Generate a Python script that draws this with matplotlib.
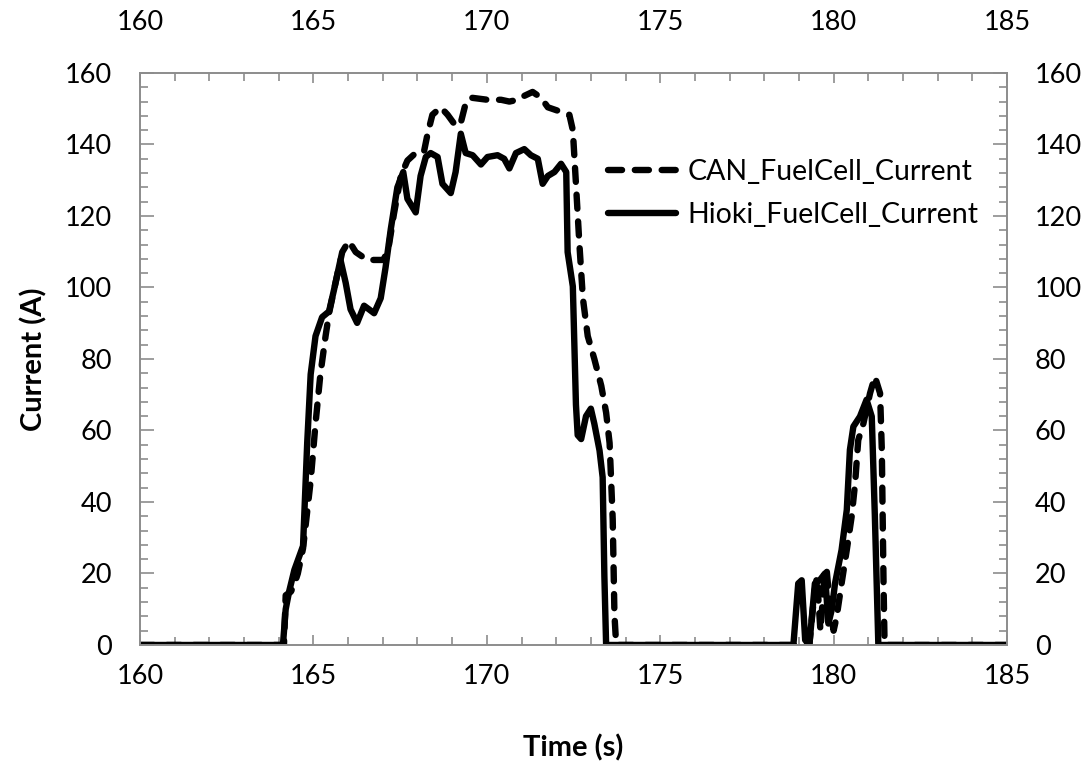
import matplotlib
matplotlib.use("Agg")
import matplotlib.pyplot as plt
from matplotlib.ticker import MultipleLocator

# Fuel cell current as logged on the CAN bus (s, A)
can_time = [160, 164.15, 164.2, 164.35, 164.45, 164.55, 164.7, 164.92, 165.06, 165.2,
            165.35, 165.45, 165.59, 165.83, 166.02, 166.22, 166.55, 167.03, 167.18, 167.32,
            167.52, 167.71, 168.0, 168.19, 168.29, 168.43, 168.67, 168.87, 169.11, 169.25,
            169.39, 169.54, 170.02, 170.41, 170.65, 170.89, 171.08, 171.32, 171.56, 171.76,
            172.09, 172.38, 172.48, 172.57, 172.67, 172.77, 172.91, 173.1, 173.3, 173.44,
            173.54, 173.63, 173.68, 173.73, 179.3, 179.45, 179.52, 179.62, 179.72, 179.8,
            179.9, 180.0, 180.09, 180.23, 180.38, 180.52, 180.62, 180.71, 180.86, 181.05,
            181.19, 181.34, 181.39, 181.44, 181.47, 185]
can_current = [0, 0, 13.9, 14.9, 17, 20, 27, 45.9, 61.9, 75.7,
               86.4, 92.8, 99.2, 109.9, 113, 109.9, 107.7, 107.7, 112, 120.5,
               131.2, 135.5, 138.1, 138.1, 142.9, 148.3, 150.4, 148.3, 145.1, 146.1,
               151.5, 153.1, 152.5, 152.5, 152, 152.5, 153.6, 154.7, 153.1, 150.4,
               149.3, 148.3, 144, 129, 112, 97, 86.4, 80, 72.5, 65,
               56.5, 35.2, 8.5, 0, 0, 15, 19, 4, 17, 21,
               10, 4, 8, 17.2, 26.6, 35.9, 45.2, 57.3, 62, 70.4,
               75.1, 70.4, 54.6, 17.2, 0, 0]

# Fuel cell current measured with the Hioki power analyser (s, A)
hioki_time = [160, 164.12, 164.2, 164.3, 164.45, 164.7, 164.82, 164.92, 165.06, 165.25,
              165.45, 165.59, 165.78, 165.93, 166.07, 166.26, 166.46, 166.6, 166.75, 166.94,
              167.08, 167.23, 167.42, 167.59, 167.71, 167.95, 168.09, 168.24, 168.38, 168.58,
              168.72, 168.96, 169.1, 169.25, 169.39, 169.59, 169.83, 170.02, 170.31, 170.5,
              170.65, 170.84, 171.08, 171.27, 171.47, 171.61, 171.76, 171.95, 172.14, 172.29,
              172.33, 172.48, 172.57, 172.62, 172.72, 172.86, 173.0, 173.1, 173.25, 173.34,
              173.39, 173.44, 178.84, 178.98, 179.08, 179.18, 179.3, 179.46, 179.6, 179.75,
              179.85, 179.95, 180.04, 180.23, 180.38, 180.47, 180.57, 180.76, 180.95, 181.1,
              181.19, 181.29, 185]
hioki_current = [0, 0, 10, 15, 21, 27.7, 56.5, 75.7, 86.4, 91.7,
                 93.3, 99.2, 107.7, 101.3, 93.9, 90.1, 94.9, 93.9, 92.8, 97,
                 105.6, 116.3, 128, 132.3, 124.8, 121, 131.2, 136.5, 137.6, 136.5,
                 129, 126.4, 132.3, 143, 137.6, 137, 134.4, 136.5, 137, 136,
                 133.3, 137.6, 138.7, 137, 136, 129, 131.2, 132.3, 134.6, 132.3,
                 109.9, 100.3, 67.2, 58.7, 57.6, 64, 66.1, 61.9, 54.4, 46.9,
                 19.2, 0, 0, 17.2, 18.1, 1.4, 0, 17.2, 18.1, 20,
                 6, 10, 17.2, 26.6, 37.8, 54.6, 61.1, 63.9, 68.6, 63.9,
                 35.9, 0, 0]

x_ticks = [160, 165, 170, 175, 180, 185]
y_ticks = [0, 20, 40, 60, 80, 100, 120, 140, 160]

plt.rcParams['font.family'] = ['Lato', 'DejaVu Sans']
FRAME = '#8c8c8c'
TICK_FS = 19.5

fig = plt.figure(figsize=(10.89, 7.73), dpi=100)
ax = fig.add_axes([0.1286, 0.1656, 0.9247 - 0.1286, 0.9056 - 0.1656])

ax.plot(can_time, can_current, color='black', lw=4.6, linestyle=(0, (2.2, 2.0)),
        dash_capstyle='round', solid_joinstyle='round', label='CAN_FuelCell_Current')
ax.plot(hioki_time, hioki_current, color='black', lw=4.6, solid_capstyle='round',
        solid_joinstyle='round', label='Hioki_FuelCell_Current')

ax.set_xlim(160, 185)
ax.set_ylim(0, 160)
ax.set_xticks(x_ticks)
ax.set_yticks(y_ticks)
ax.xaxis.set_minor_locator(MultipleLocator(1))
ax.yaxis.set_minor_locator(MultipleLocator(4))

for side in ax.spines.values():
    side.set_color(FRAME)
    side.set_linewidth(1.4)

ax.tick_params(axis='both', which='both', direction='in', color=FRAME, width=1.2,
               top=True, right=True, labelsize=TICK_FS, labelcolor='black')
ax.tick_params(axis='both', which='major', length=7)
ax.tick_params(axis='both', which='minor', length=6)
ax.tick_params(axis='x', which='major', pad=14)
ax.tick_params(axis='y', which='major', pad=20)
ax.tick_params(axis='y', which='major', length=10)

# Labels repeated on the top and right edges
top = ax.secondary_xaxis('top')
top.set_xticks(x_ticks)
top.tick_params(length=0, pad=27, labelsize=TICK_FS, labelcolor='black')
top.spines['top'].set_visible(False)

right = ax.secondary_yaxis('right')
right.set_yticks(y_ticks)
right.tick_params(length=0, pad=20, labelsize=TICK_FS, labelcolor='black')
right.spines['right'].set_visible(False)

ax.set_xlabel('Time (s)', fontsize=21, fontweight='bold', labelpad=32)
ax.set_ylabel('Current (A)', fontsize=21, fontweight='bold', labelpad=13)

ax.legend(loc='upper left', bbox_to_anchor=(0.5235, 0.875), frameon=False,
          fontsize=20.5, handlelength=2.4, handletextpad=0.4,
          labelspacing=0.62, borderpad=0.0)

fig.savefig('out.png', dpi=100)
